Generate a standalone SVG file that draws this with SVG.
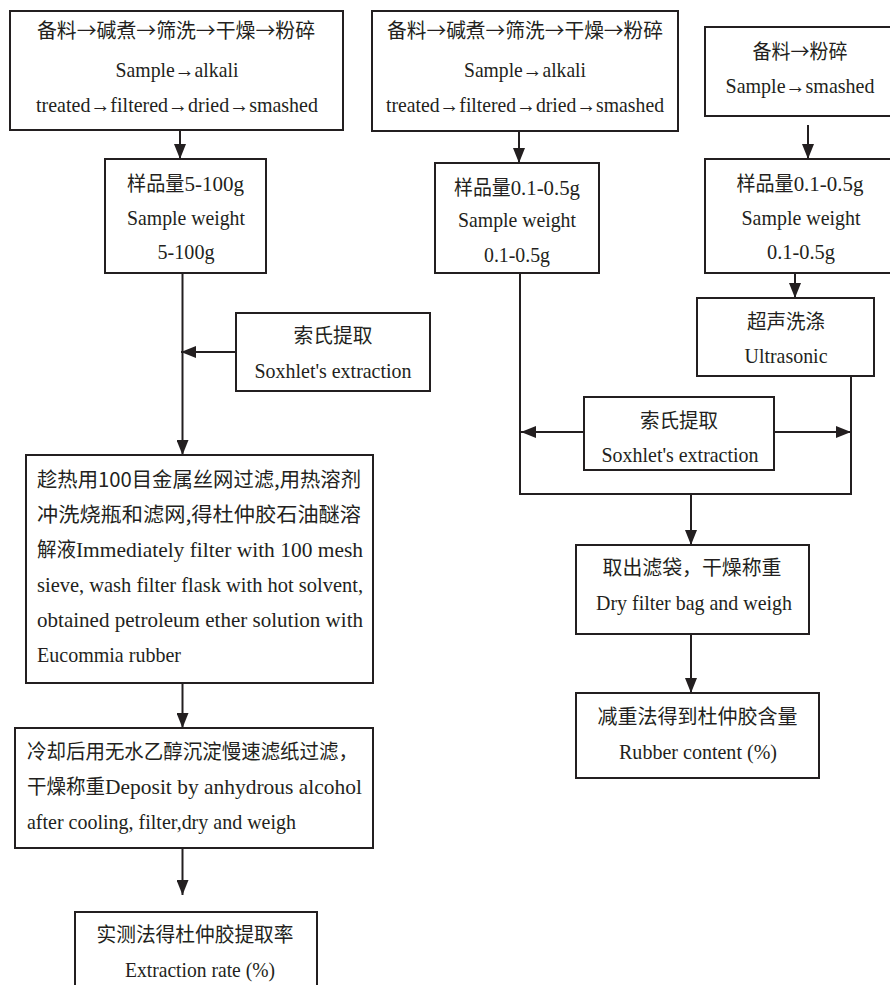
<svg xmlns="http://www.w3.org/2000/svg" width="890" height="985" viewBox="0 0 890 985">
<style>
.box{fill:#fff;stroke:#231f20;stroke-width:2}
.t{font-family:"Liberation Serif","Noto Sans CJK SC",serif;font-size:22px;fill:#231f20}
.k{font-family:"Noto Sans CJK SC",sans-serif;font-size:20px}
.c{text-anchor:middle}
.ln{fill:none;stroke:#231f20;stroke-width:2}
</style>
<defs>
<marker id="ah" markerUnits="userSpaceOnUse" markerWidth="15" markerHeight="12" refX="15" refY="6" orient="auto">
<path d="M0,0 L15,6 L0,12 z" fill="#231f20"/>
</marker>
</defs>
<rect width="890" height="985" fill="#fff"/>
<g id="connectors">
<line class="ln" x1="180" y1="130" x2="180" y2="159" marker-end="url(#ah)"/>
<line class="ln" x1="182.5" y1="273" x2="182.5" y2="455" marker-end="url(#ah)"/>
<line class="ln" x1="236" y1="352" x2="181" y2="352" marker-end="url(#ah)"/>
<line class="ln" x1="182.5" y1="683" x2="182.5" y2="728" marker-end="url(#ah)"/>
<line class="ln" x1="182.5" y1="848" x2="182.5" y2="895" marker-end="url(#ah)"/>
<line class="ln" x1="519" y1="125" x2="519" y2="163" marker-end="url(#ah)"/>
<path class="ln" d="M520,273 V494 H851 V376"/>
<line class="ln" x1="584" y1="432" x2="521" y2="432" marker-end="url(#ah)"/>
<line class="ln" x1="774" y1="432" x2="851" y2="432" marker-end="url(#ah)"/>
<line class="ln" x1="691" y1="494" x2="691" y2="545" marker-end="url(#ah)"/>
<line class="ln" x1="691" y1="634" x2="691" y2="693" marker-end="url(#ah)"/>
<line class="ln" x1="808" y1="125" x2="808" y2="159" marker-end="url(#ah)"/>
<line class="ln" x1="795" y1="273" x2="795" y2="298" marker-end="url(#ah)"/>
</g>
<g id="n1">
<rect class="box" x="10" y="11" width="333" height="119"/>
<text class="t k c" x="176" y="38" textLength="278" lengthAdjust="spacingAndGlyphs">备料→碱煮→筛洗→干燥→粉碎</text>
<text class="t c" x="177" y="77" textLength="123" lengthAdjust="spacingAndGlyphs">Sample→alkali</text>
<text class="t c" x="177" y="112" textLength="282" lengthAdjust="spacingAndGlyphs">treated→filtered→dried→smashed</text>
</g>
<g id="n2">
<rect class="box" x="105" y="159" width="161" height="114"/>
<text class="t c" x="185.5" y="191" textLength="117" lengthAdjust="spacingAndGlyphs"><tspan class="k">样品量</tspan>5-100g</text>
<text class="t c" x="186" y="225" textLength="118" lengthAdjust="spacingAndGlyphs">Sample weight</text>
<text class="t c" x="186" y="259" textLength="57" lengthAdjust="spacingAndGlyphs">5-100g</text>
</g>
<g id="n3">
<rect class="box" x="236" y="313" width="194" height="78"/>
<text class="t k c" x="333" y="343" textLength="79" lengthAdjust="spacingAndGlyphs">索氏提取</text>
<text class="t c" x="333" y="378" textLength="157" lengthAdjust="spacingAndGlyphs">Soxhlet's extraction</text>
</g>
<g id="n4">
<rect class="box" x="26" y="455" width="347" height="228"/>
<text class="t k" x="37" y="487" textLength="324" lengthAdjust="spacingAndGlyphs">趁热用100目金属丝网过滤,用热溶剂</text>
<text class="t k" x="37" y="522" textLength="324" lengthAdjust="spacingAndGlyphs">冲洗烧瓶和滤网,得杜仲胶石油醚溶</text>
<text class="t" x="37" y="557" textLength="326" lengthAdjust="spacingAndGlyphs"><tspan class="k">解液</tspan>Immediately filter with 100 mesh</text>
<text class="t" x="37" y="592" textLength="326" lengthAdjust="spacingAndGlyphs">sieve, wash filter flask with hot solvent,</text>
<text class="t" x="37" y="627" textLength="326" lengthAdjust="spacingAndGlyphs">obtained petroleum ether solution with</text>
<text class="t" x="37" y="662" textLength="144" lengthAdjust="spacingAndGlyphs">Eucommia rubber</text>
</g>
<g id="n5">
<rect class="box" x="15" y="728" width="358" height="120"/>
<text class="t k" x="27" y="759" textLength="331" lengthAdjust="spacingAndGlyphs">冷却后用无水乙醇沉淀慢速滤纸过滤，</text>
<text class="t" x="27" y="794" textLength="335" lengthAdjust="spacingAndGlyphs"><tspan class="k">干燥称重</tspan>Deposit by anhydrous alcohol</text>
<text class="t" x="27" y="829" textLength="269" lengthAdjust="spacingAndGlyphs">after cooling, filter,dry and weigh</text>
</g>
<g id="n6">
<rect class="box" x="75" y="912" width="242" height="95"/>
<text class="t k c" x="195" y="942" textLength="197" lengthAdjust="spacingAndGlyphs">实测法得杜仲胶提取率</text>
<text class="t c" x="200" y="977" textLength="150" lengthAdjust="spacingAndGlyphs">Extraction rate (%)</text>
</g>
<g id="n7">
<rect class="box" x="372" y="11" width="306" height="120"/>
<text class="t k c" x="525" y="38" textLength="276" lengthAdjust="spacingAndGlyphs">备料→碱煮→筛洗→干燥→粉碎</text>
<text class="t c" x="525" y="77" textLength="122" lengthAdjust="spacingAndGlyphs">Sample→alkali</text>
<text class="t c" x="525" y="112" textLength="278" lengthAdjust="spacingAndGlyphs">treated→filtered→dried→smashed</text>
</g>
<g id="n8">
<rect class="box" x="435" y="163" width="164" height="110"/>
<text class="t c" x="517" y="195" textLength="126" lengthAdjust="spacingAndGlyphs"><tspan class="k">样品量</tspan>0.1-0.5g</text>
<text class="t c" x="517" y="227" textLength="118" lengthAdjust="spacingAndGlyphs">Sample weight</text>
<text class="t c" x="517" y="262" textLength="66" lengthAdjust="spacingAndGlyphs">0.1-0.5g</text>
</g>
<g id="n9">
<rect class="box" x="705" y="27" width="200" height="89"/>
<text class="t k c" x="800" y="59" textLength="95" lengthAdjust="spacingAndGlyphs">备料→粉碎</text>
<text class="t c" x="800" y="93" textLength="149" lengthAdjust="spacingAndGlyphs">Sample→smashed</text>
</g>
<g id="n10">
<rect class="box" x="705" y="159" width="200" height="114"/>
<text class="t c" x="800" y="191" textLength="127" lengthAdjust="spacingAndGlyphs"><tspan class="k">样品量</tspan>0.1-0.5g</text>
<text class="t c" x="801" y="225" textLength="119" lengthAdjust="spacingAndGlyphs">Sample weight</text>
<text class="t c" x="801" y="259" textLength="68" lengthAdjust="spacingAndGlyphs">0.1-0.5g</text>
</g>
<g id="n11">
<rect class="box" x="697" y="298" width="177" height="78"/>
<text class="t k c" x="786" y="329" textLength="78" lengthAdjust="spacingAndGlyphs">超声洗涤</text>
<text class="t c" x="786" y="363" textLength="83" lengthAdjust="spacingAndGlyphs">Ultrasonic</text>
</g>
<g id="n12">
<rect class="box" x="584" y="397" width="190" height="73"/>
<text class="t k c" x="679" y="428" textLength="78" lengthAdjust="spacingAndGlyphs">索氏提取</text>
<text class="t c" x="680" y="462" textLength="157" lengthAdjust="spacingAndGlyphs">Soxhlet's extraction</text>
</g>
<g id="n13">
<rect class="box" x="576" y="545" width="233" height="89"/>
<text class="t k c" x="692" y="575" textLength="179" lengthAdjust="spacingAndGlyphs">取出滤袋，干燥称重</text>
<text class="t c" x="694" y="610" textLength="196" lengthAdjust="spacingAndGlyphs">Dry filter bag and weigh</text>
</g>
<g id="n14">
<rect class="box" x="576" y="693" width="243" height="85"/>
<text class="t k c" x="697.5" y="724" textLength="200" lengthAdjust="spacingAndGlyphs">减重法得到杜仲胶含量</text>
<text class="t c" x="698" y="759" textLength="158" lengthAdjust="spacingAndGlyphs">Rubber content (%)</text>
</g>
</svg>
